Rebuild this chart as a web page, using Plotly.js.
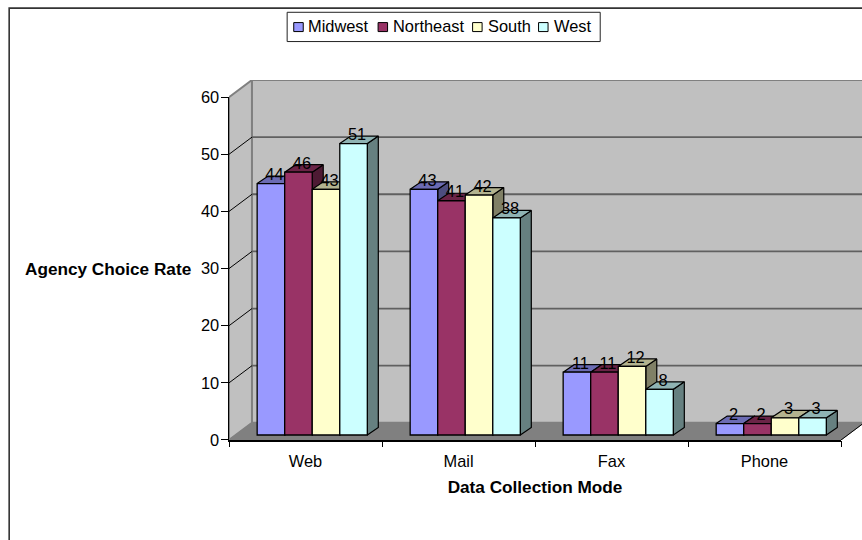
<!DOCTYPE html>
<html>
<head>
<meta charset="utf-8">
<script src="https://cdn.plot.ly/plotly-3.0.1.min.js"></script>
<style>html,body{margin:0;padding:0;background:#fff;overflow:hidden}</style>
</head>
<body>
<div id="chart" style="width:862px;height:540px"></div>
<script>
// Survey results by data collection mode and region
const categories = ['Web', 'Mail', 'Fax', 'Phone'];
const midwest = [44, 43, 11, 2];
const northeast = [46, 41, 11, 2];
const south = [43, 42, 12, 3];
const west = [51, 38, 8, 3];
const seriesNames = ['Midwest', 'Northeast', 'South', 'West'];
const seriesValues = [midwest, northeast, south, west];
const yTicks = [0, 10, 20, 30, 40, 50, 60];

// Face colours of each series: front, top, side
const frontColors = ['#9999FF', '#993366', '#FFFFCC', '#CCFFFF'];
const topColors = ['#6B6BB3', '#6B2447', '#B3B38F', '#8FB3B3'];
const sideColors = ['#4D4D80', '#4D1A33', '#808066', '#668080'];

// Front plane of the chart and full room extent, in page pixels
const W = 862, H = 540;
const L = 228.5, R = 841, T = 96.7, B = 440;
const roomTop = 79.5;
const pxX = (R - L) / 4, pxY = (B - T) / 60;
const px = x => (x - L) / (W - L);
const py = y => (B - y) / (B - roomTop);

// Oblique projection: room depth and bar depth, in axis units
const roomDx = 23 / pxX, roomDy = 17.2 / pxY;
const barDx = 11 / pxX, barDy = 7.5 / pxY;
const barBase = 5 / pxY;
const barWidth = 0.18, groupStart = 0.184;

const FONT = '"Liberation Sans", Arial, sans-serif';
const traces = [];

function poly(xs, ys, fill, lineColor, lineWidth) {
  traces.push({
    type: 'scatter', mode: 'lines', x: xs, y: ys, fill: 'toself', fillcolor: fill,
    line: { color: lineColor, width: lineWidth }, cliponaxis: false,
    hoverinfo: 'skip', showlegend: false
  });
}
function segment(xs, ys, color, width) {
  traces.push({
    type: 'scatter', mode: 'lines', x: xs, y: ys,
    line: { color: color, width: width }, cliponaxis: false,
    hoverinfo: 'skip', showlegend: false
  });
}

// Room: side wall, back wall, floor
poly([0, roomDx, roomDx, 0, 0], [0, roomDy, 60 + roomDy, 60, 0], '#C0C0C0', '#808080', 2);
poly([roomDx, 4 + roomDx, 4 + roomDx, roomDx, roomDx],
     [roomDy, roomDy, 60 + roomDy, 60 + roomDy, roomDy], '#C0C0C0', '#808080', 2);
poly([0, 4, 4 + roomDx, roomDx, 0], [0, 0, roomDy, roomDy, 0], '#808080', '#808080', 1);

// Gridlines wrap from the side wall onto the back wall
yTicks.slice(1, -1).forEach(v => {
  segment([roomDx, 4 + roomDx], [v + roomDy, v + roomDy], '#606060', 1.8);
  segment([0, roomDx], [v, v + roomDy], '#000000', 1);
});
segment([4, 4 + roomDx], [0, roomDy], '#000000', 1);

// Side and top faces stay in the room subplot, under the front faces
seriesValues.forEach((vals, s) => {
  vals.forEach((v, c) => {
    const x0 = c + groupStart + s * barWidth, x1 = x0 + barWidth, top = barBase + v;
    poly([x1, x1 + barDx, x1 + barDx, x1, x1],
         [barBase, barBase + barDy, top + barDy, top, barBase], sideColors[s], '#000000', 1.2);
    poly([x0, x1, x1 + barDx, x0 + barDx, x0],
         [top, top, top + barDy, top + barDy, top], topColors[s], '#000000', 1.2);
  });
});

// Front faces are real bars on the subplot that carries the visible axes
seriesValues.forEach((vals, s) => {
  traces.push({
    type: 'bar', name: seriesNames[s], xaxis: 'x2', yaxis: 'y2',
    x: categories.map((_, c) => c + 0.5), y: vals,
    base: vals.map(() => barBase),
    width: barWidth, offset: groupStart - 0.5 + s * barWidth,
    marker: { color: frontColors[s], line: { color: '#000000', width: 1.3 } },
    showlegend: false, hoverinfo: 'skip'
  });
});

// Value labels float above each bar's top face
seriesValues.forEach((vals, s) => {
  traces.push({
    type: 'scatter', mode: 'text', xaxis: 'x2', yaxis: 'y2', cliponaxis: false,
    x: vals.map((_, c) => c + groupStart + (s + 0.5) * barWidth + 0.023),
    y: vals.map(v => v + barBase + barDy),
    text: vals.map(String), textposition: 'middle center',
    textfont: { family: FONT, size: 16.4, color: '#000000' },
    showlegend: false, hoverinfo: 'skip'
  });
});

// Category boundary ticks live on a third axis over the labelled one
traces.push({
  type: 'scatter', mode: 'none', xaxis: 'x3', yaxis: 'y2', x: [0, 4], y: [0, 0],
  showlegend: false, hoverinfo: 'skip'
});

// Legend box built from shapes and annotations for its tight spacing
const legendItems = [
  { swatch: 293.3, label: 308 },
  { swatch: 377.7, label: 392.3 },
  { swatch: 472.3, label: 487.3 },
  { swatch: 538.3, label: 553.3 }
];
const shapes = [
  { type: 'rect', xref: 'paper', yref: 'paper', layer: 'below',
    x0: px(8.5), x1: px(W + 20), y0: py(7.5), y1: py(H + 20),
    line: { color: '#333333', width: 1.6 }, fillcolor: '#FFFFFF' },
  { type: 'rect', xref: 'paper', yref: 'paper',
    x0: px(286.7), x1: px(600), y0: py(11.7), y1: py(41),
    line: { color: '#222222', width: 1 }, fillcolor: '#FFFFFF' }
];
const annotations = [];
legendItems.forEach((item, s) => {
  shapes.push({ type: 'rect', xref: 'paper', yref: 'paper',
    x0: px(item.swatch), x1: px(item.swatch + 9.5), y0: py(22), y1: py(31),
    line: { color: '#000000', width: 1 }, fillcolor: frontColors[s] });
  annotations.push({ xref: 'paper', yref: 'paper', x: px(item.label), y: py(25.2),
    xanchor: 'left', yanchor: 'middle', showarrow: false, xshift: -2,
    text: seriesNames[s], font: { family: FONT, size: 16.4, color: '#000000' } });
});
annotations.push({ xref: 'paper', yref: 'paper', x: px(190.7), y: py(268.5),
  xanchor: 'right', yanchor: 'middle', showarrow: false, xshift: 2,
  text: '<b>Agency Choice Rate</b>', font: { family: FONT, size: 17.2, color: '#000000' } });

const xDomain = [0, (R - L) / (W - L)];
const yDomain = [0, (B - T) / (B - roomTop)];

const layout = {
  width: W, height: H,
  margin: { l: L, r: 0, t: roomTop, b: H - B, pad: 0 },
  paper_bgcolor: '#FFFFFF', plot_bgcolor: 'rgba(0,0,0,0)',
  showlegend: false, barmode: 'overlay',
  // Hidden axes spanning the whole room, walls included
  xaxis: {
    domain: [0, 1], range: [0, (W - L) / pxX], visible: false, anchor: 'y'
  },
  yaxis: {
    domain: [0, 1], range: [0, (B - roomTop) / pxY], visible: false, anchor: 'x'
  },
  // Visible axes on the front plane
  xaxis2: {
    domain: xDomain, anchor: 'y2', range: [0, 4],
    tickmode: 'array', tickvals: [0.5, 1.5, 2.5, 3.5], ticktext: categories,
    ticks: 'outside', ticklen: 6, tickcolor: 'rgba(0,0,0,0)',
    tickfont: { family: FONT, size: 16.4, color: '#000000' },
    showgrid: false, zeroline: false, showline: true, linecolor: '#000000', linewidth: 1.5,
    title: { text: '<b>Data Collection Mode</b>', standoff: 12,
             font: { family: FONT, size: 17.2, color: '#000000' } }
  },
  yaxis2: {
    domain: yDomain, anchor: 'x2', range: [0, 60],
    tickmode: 'array', tickvals: yTicks, ticktext: yTicks.map(String),
    ticks: 'outside', ticklen: 7, tickwidth: 1, tickcolor: '#000000', ticklabelstandoff: -2,
    tickfont: { family: FONT, size: 16.4, color: '#000000' },
    showgrid: false, zeroline: false, showline: true, linecolor: '#000000', linewidth: 1.5
  },
  xaxis3: {
    overlaying: 'x2', anchor: 'y2', side: 'bottom', range: [0, 4],
    tickmode: 'array', tickvals: [0, 1, 2, 3, 4], showticklabels: false,
    ticks: 'outside', ticklen: 6, tickwidth: 1, tickcolor: '#000000',
    showgrid: false, zeroline: false, showline: false
  },
  shapes: shapes, annotations: annotations
};

Plotly.newPlot('chart', traces, layout, { displayModeBar: false, staticPlot: true });
</script>
</body>
</html>
